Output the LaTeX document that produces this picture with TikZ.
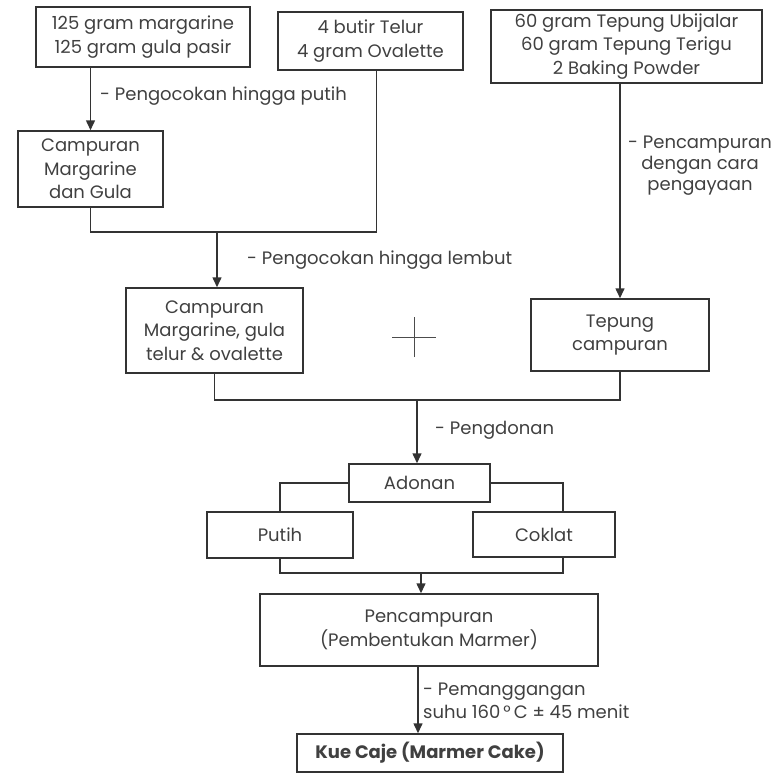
\documentclass[tikz,border=0pt]{standalone}
\usepackage{fontspec}
\setmainfont{Poppins}
\usetikzlibrary{arrows.meta}

\begin{document}
\begin{tikzpicture}[x=1pt,y=-1pt]

	\tikzstyle{box}=[rectangle,draw=black!80,line width=1.5pt,
		text=black!75,align=center,inner sep=0pt,
		font=\fontsize{18}{23.5}\selectfont]
	\tikzstyle{note}=[text=black!75,inner sep=0pt,
		font=\fontsize{18}{21}\selectfont]
	\tikzstyle{link}=[draw=black!80,line width=1.5pt]
	\tikzstyle{arr}=[link,-{Triangle[width=9pt,length=10pt]}]

	\useasboundingbox (0,0) rectangle (778,776);

	% bahan
	\node[box,minimum width=214pt,minimum height=60pt] (marg) at (143,37) {125 gram margarine\\125 gram gula pasir};
	\node[box,minimum width=185pt,minimum height=58pt] (telur) at (370.5,41) {4 butir Telur\\4 gram Ovalette};
	\node[box,minimum width=271pt,minimum height=73pt] (tepung) at (626.5,46.5) {60 gram Tepung Ubijalar\\60 gram Tepung Terigu\\2 Baking Powder};

	% campuran
	\node[box,minimum width=145pt,minimum height=76pt] (cmg) at (90.5,169) {Campuran\\Margarine\\dan Gula};
	\node[box,minimum width=177pt,minimum height=85pt] (cmgto) at (214.5,330.5) {Campuran\\Margarine, gula\\telur \& ovalette};
	\node[box,minimum width=178pt,minimum height=72pt] (tcamp) at (620,335) {Tepung\\campuran};

	% adonan
	\node[box,minimum width=141pt,minimum height=38pt] (adonan) at (419.5,483) {Adonan};
	\node[box,minimum width=146pt,minimum height=46pt] (putih) at (280,535) {Putih};
	\node[box,minimum width=142pt,minimum height=45pt] (coklat) at (544,534.5) {Coklat};
	\node[box,minimum width=338pt,minimum height=72pt] (pencamp) at (429,630) {Pencampuran\\(Pembentukan Marmer)};
	\node[box,minimum width=266pt,minimum height=38pt] (kue) at (430,753) {\bfseries Kue Caje (Marmer Cake)};

	\coordinate (j1) at (217,232);
	\coordinate (j2) at (417,400);
	\coordinate (j3) at (421,573);
	\coordinate (plus) at (414,337);

	\draw[arr] (cmg.north |- marg.south) -- (cmg.north);
	\node[note,anchor=west] (lputih) at (100,96) {- Pengocokan hingga putih};

	\draw[link] (cmg.south) |- (j1) -| ([xshift=6pt]telur.south);
	\draw[arr] (j1) -- (j1 |- cmgto.north);
	\node[note,anchor=west] (llembut) at (247,260) {- Pengocokan hingga lembut};

	\draw[arr] (tcamp.north |- tepung.south) -- (tcamp.north);
	\node[note,align=center] (lpengayaan) at (700,166) {- Pencampuran\\dengan cara\\pengayaan};

	\draw[line width=1pt,draw=black!70] ([yshift=-20pt]plus) -- ([yshift=20pt]plus)
		([xshift=-22pt]plus) -- ([xshift=22pt]plus);

	\draw[link] (cmgto.south) |- (j2) -| (tcamp.south);
	\draw[arr] (j2) -- (j2 |- adonan.north);
	\node[note,anchor=west] (ldonan) at (435,430) {- Pengdonan};

	\draw[link] (adonan.west) -| (putih.north);
	\draw[link] (adonan.east) -| ([xshift=19pt]coklat.north);
	\draw[link] (putih.south) |- (j3) -| ([xshift=19pt]coklat.south);
	\draw[arr] (j3) -- (j3 |- pencamp.north);

	\draw[arr] ([xshift=-11pt]pencamp.south) -- ([xshift=-12pt]kue.north);
	\node[note,anchor=west,align=left,font=\fontsize{18}{23}\selectfont] (lpanggang) at (423,701) {- Pemanggangan\\suhu 160\,°\,C ± 45 menit};

\end{tikzpicture}
\end{document}
